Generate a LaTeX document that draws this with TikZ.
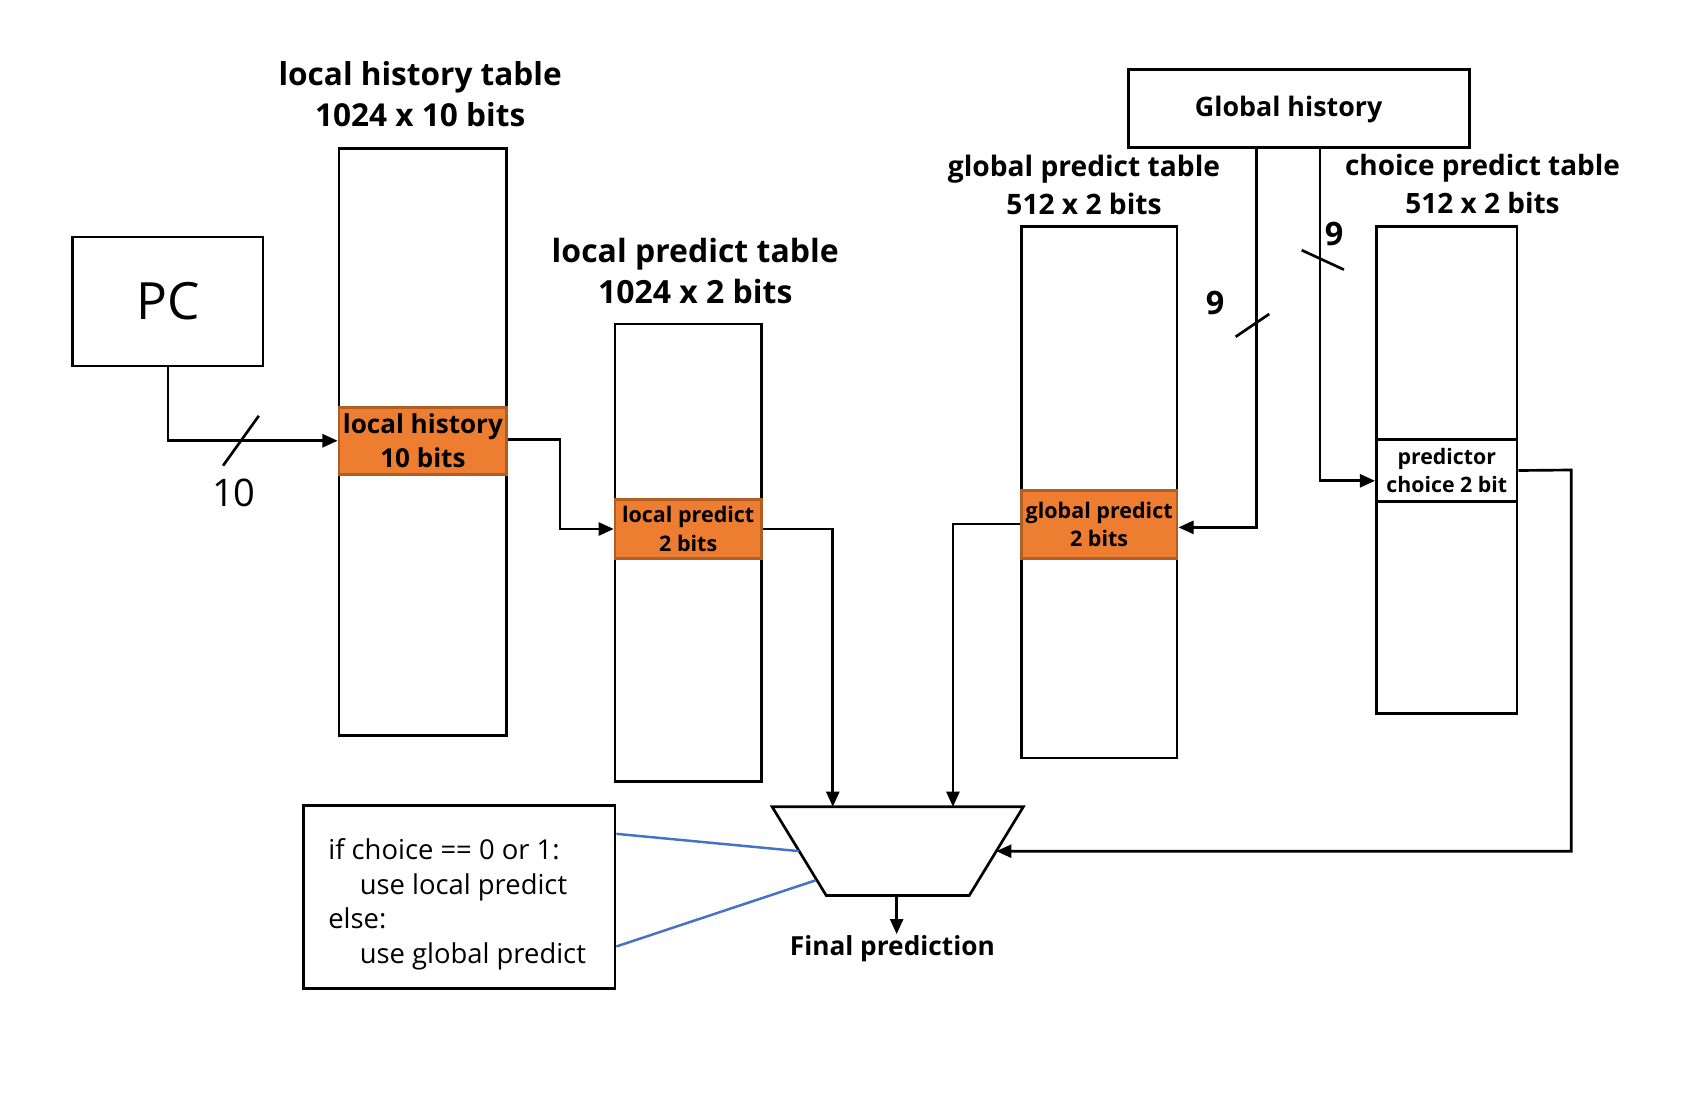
\documentclass[tikz,border=0pt]{standalone}
\usepackage{fontspec}
\setmainfont{Open Sans}
\usetikzlibrary{arrows.meta}
\definecolor{orng}{HTML}{ED7D31}
\definecolor{orngd}{HTML}{B05E24}
\definecolor{bl}{HTML}{4472C4}
\newcommand{\fs}[2]{\fontsize{#1}{#2}\selectfont}
\begin{document}
\begin{tikzpicture}[x=0.02cm,y=-0.02cm,line width=1.4pt,
  arr/.style={-{Triangle[length=0.28cm,width=0.24cm]}},
  box/.style={draw,rectangle,inner sep=0pt},
  band/.style={draw=orngd,fill=orng,rectangle,inner sep=0pt,align=center,font=\bfseries},
  wband/.style={draw,fill=white,rectangle,inner sep=0pt,align=center,font=\bfseries},
  ttl/.style={align=center,font=\bfseries,inner sep=0pt},
  slash/.style={line width=1.4pt}]
\useasboundingbox (0,0) rectangle (1568,1023);

% PC
\node[box,minimum width=3.52cm,minimum height=2.38cm,font=\fs{27}{30}] (pc) at (155,278.5) {PC};

% local history table
\node[ttl,font=\bfseries\fs{16.6}{21.6}] (lht) at (388,87) {local history table\\1024 x 10 bits};
\node[box,minimum width=3.1cm,minimum height=10.84cm] (lh) at (390.5,408) {};
\node[band,minimum width=3.1cm,minimum height=1.24cm,font=\bfseries\fs{13.7}{17.6}] (lhb) at (390.5,407) {local history\\10 bits};

% local predict table
\node[ttl,font=\bfseries\fs{16.8}{21.6}] (lpt) at (642,250) {local predict table\\1024 x 2 bits};
\node[box,minimum width=2.7cm,minimum height=8.46cm] (lp) at (635.5,510.5) {};
\node[band,minimum width=2.7cm,minimum height=1.1cm,font=\bfseries\fs{11.3}{14.8}] (lpb) at (635.5,488.5) {local predict\\2 bits};

% global predict table
\node[ttl,font=\bfseries\fs{14.8}{20}] (gpt) at (1001,170.5) {global predict table\\512 x 2 bits};
\node[box,minimum width=2.88cm,minimum height=9.82cm] (gp) at (1015,454.5) {};
\node[band,minimum width=2.88cm,minimum height=1.26cm,font=\bfseries\fs{11.3}{14.5}] (gpb) at (1015,484.5) {global predict\\2 bits};

% choice predict table
\node[ttl,font=\bfseries\fs{14.7}{20}] (cpt) at (1369,169.5) {choice predict table\\512 x 2 bits};
\node[box,minimum width=2.6cm,minimum height=9cm] (cp) at (1336,434) {};
\node[wband,minimum width=2.6cm,minimum height=1.14cm,font=\bfseries\fs{11.2}{14.8}] (cpb) at (1336,434.5) {predictor\\choice 2 bit};

% Global history
\node[box,minimum width=6.3cm,minimum height=1.44cm] (gh) at (1199.5,100) {};
\node[font=\bfseries\fs{14.1}{16},inner sep=0pt] (ghl) at (1190,101) {Global history};

% mux
\draw (713,745) coordinate (muxtl) -- (945,745) coordinate (muxtr)
  -- (895,827) coordinate (muxbr) -- (763,827) coordinate (muxbl) -- cycle;
\coordinate (mux1) at (769,745);
\coordinate (mux2) at (880,745);
\coordinate (mux3) at (920,786);
\coordinate (muxo) at (828,827);
\coordinate (muxb1) at (738,786);
\coordinate (muxb2) at (753,813);
\node[font=\bfseries\fs{13.8}{16},inner sep=0pt] (fin) at (824,876) {Final prediction};

% code box
\node[box,minimum width=5.76cm,minimum height=3.38cm] (code) at (424,828.5) {};
\node[anchor=north west,align=left,inner sep=0pt,font=\fs{14.4}{18.2}] (codet) at (302,773)
  {if choice == 0 or 1:\\\hspace*{16.5pt}use local predict\\else:\\\hspace*{16.5pt}use global predict};

% connectors
\draw[arr] (pc.south) |- (lhb.west);
\draw[slash] (206,430) -- (239,384);
\node[font=\fs{20}{22},inner sep=0pt] (ten) at (216,455) {10};

\draw[arr] (lhb.east |- 0,406) -- (517,406) |- (lpb.west);
\draw[arr] (lpb.east) -| (mux1);
\draw[arr] (gpb.west |- 0,484) -| (mux2);
\draw[arr] (gh.south -| 1160,0) |- (gpb.east |- 0,487);
\draw[slash] (1141,311) -- (1172,290);
\node[font=\bfseries\fs{17}{18},inner sep=0pt] (nine1) at (1122,280) {9};
\draw[arr] (gh.south -| 1219,0) |- (cpb.west |- 0,444);
\draw[slash] (1202,231) -- (1241,249);
\node[font=\bfseries\fs{17}{18},inner sep=0pt] (nine2) at (1232,216) {9};
\draw[arr] (cpb.east) -- (1451,434) |- (mux3);
\draw[arr] (muxo) -- (fin.north -| muxo);

\draw[bl,line width=1.3pt] (code.east |- 0,770) -- (muxb1);
\draw[bl,line width=1.3pt] (code.east |- 0,874) -- (muxb2);
\end{tikzpicture}
\end{document}
